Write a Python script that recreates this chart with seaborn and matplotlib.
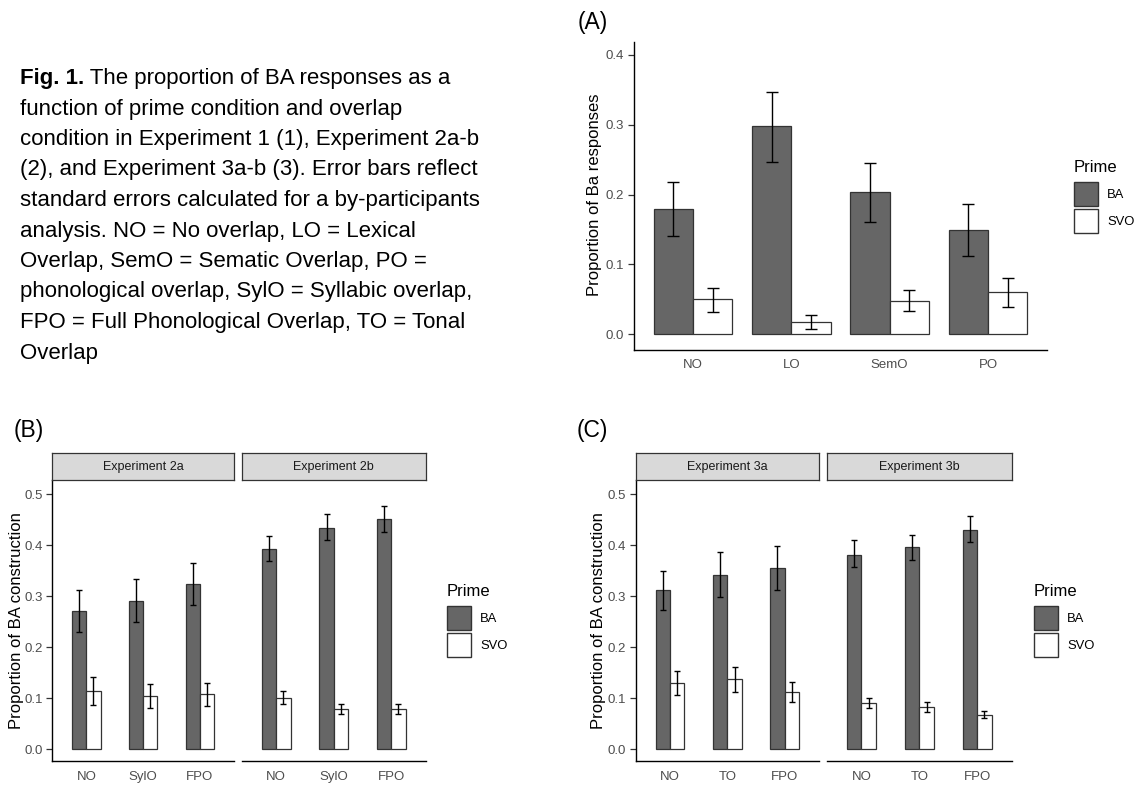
import numpy as np
import pandas as pd
import matplotlib
matplotlib.use('Agg')
import matplotlib.pyplot as plt
from matplotlib.patches import Patch
import seaborn as sns

sns.set_style('white')
plt.rcParams['font.family'] = ['Liberation Sans', 'DejaVu Sans']
plt.rcParams['text.color'] = 'black'
plt.rcParams['axes.labelcolor'] = 'black'

W, H = 1146, 785

#%% data
primes = ['BA', 'SVO']

# (A) Experiment 1
condA = ['NO', 'LO', 'SemO', 'PO']
A_ba = [0.180, 0.298, 0.204, 0.149]
A_ba_lo = [0.141, 0.247, 0.161, 0.112]
A_ba_hi = [0.218, 0.347, 0.246, 0.187]
A_svo = [0.050, 0.018, 0.048, 0.060]
A_svo_lo = [0.032, 0.008, 0.033, 0.039]
A_svo_hi = [0.066, 0.028, 0.063, 0.080]

# (B) Experiment 2a / 2b
condB = ['NO', 'SylO', 'FPO']
B2a_ba = [0.271, 0.291, 0.323]
B2a_ba_lo = [0.229, 0.250, 0.282]
B2a_ba_hi = [0.311, 0.334, 0.364]
B2a_svo = [0.114, 0.103, 0.107]
B2a_svo_lo = [0.087, 0.080, 0.085]
B2a_svo_hi = [0.141, 0.127, 0.130]
B2b_ba = [0.393, 0.434, 0.452]
B2b_ba_lo = [0.369, 0.409, 0.425]
B2b_ba_hi = [0.418, 0.461, 0.477]
B2b_svo = [0.101, 0.078, 0.078]
B2b_svo_lo = [0.088, 0.068, 0.068]
B2b_svo_hi = [0.114, 0.089, 0.089]

# (C) Experiment 3a / 3b
condC = ['NO', 'TO', 'FPO']
C3a_ba = [0.312, 0.341, 0.355]
C3a_ba_lo = [0.273, 0.298, 0.312]
C3a_ba_hi = [0.350, 0.386, 0.398]
C3a_svo = [0.130, 0.137, 0.112]
C3a_svo_lo = [0.106, 0.112, 0.092]
C3a_svo_hi = [0.153, 0.161, 0.132]
C3b_ba = [0.381, 0.396, 0.430]
C3b_ba_lo = [0.356, 0.371, 0.405]
C3b_ba_hi = [0.409, 0.420, 0.456]
C3b_svo = [0.090, 0.083, 0.067]
C3b_svo_lo = [0.081, 0.072, 0.060]
C3b_svo_hi = [0.100, 0.093, 0.075]

caption = ['function of prime condition and overlap',
           'condition in Experiment 1 (1), Experiment 2a-b',
           '(2), and Experiment 3a-b (3). Error bars reflect',
           'standard errors calculated for a by-participants',
           'analysis. NO = No overlap, LO = Lexical',
           'Overlap, SemO = Sematic Overlap, PO =',
           'phonological overlap, SylO = Syllabic overlap,',
           'FPO = Full Phonological Overlap, TO = Tonal',
           'Overlap']

pal = {'BA': '#666666', 'SVO': 'white'}
edge = '#333333'
tickcol = '#4D4D4D'


def rect(l, t, r, b):
    return [l / W, 1 - b / H, (r - l) / W, (b - t) / H]


def make_df(cond, ba, ba_lo, ba_hi, svo, svo_lo, svo_hi):
    df = pd.DataFrame({'cond': cond * 2,
                       'prime': ['BA'] * len(cond) + ['SVO'] * len(cond),
                       'val': ba + svo,
                       'lo': ba_lo + svo_lo,
                       'hi': ba_hi + svo_hi})
    return df


def bar_panel(ax, df, cond, width, capsize, ylim, yticks, left_axis=True):
    sns.barplot(data=df, x='cond', y='val', hue='prime', order=cond,
                hue_order=primes, palette=pal, edgecolor=edge, linewidth=0.9,
                width=width, errorbar=None, legend=False, ax=ax)
    # error bars at the bar centres
    for cont, p in zip(ax.containers, primes):
        sub = df[df.prime == p].set_index('cond').loc[cond]
        xs = [b.get_x() + b.get_width() / 2 for b in cont]
        ax.errorbar(xs, sub.val, yerr=[sub.val - sub.lo, sub.hi - sub.val],
                    fmt='none', ecolor='black', elinewidth=1.0,
                    capsize=capsize, capthick=1.0)
    ax.set_xlim(-0.6, len(cond) - 0.4)
    ax.set_ylim(*ylim)
    ax.set_xlabel('')
    ax.set_ylabel('')
    ax.set_facecolor('none')
    for s in ['top', 'right']:
        ax.spines[s].set_visible(False)
    ax.spines['bottom'].set_color('black')
    ax.spines['bottom'].set_linewidth(1.0)
    ax.tick_params(axis='x', length=4, width=0.9, color=edge,
                   labelcolor=tickcol, labelsize=9.5, pad=3)
    if left_axis:
        ax.spines['left'].set_color('black')
        ax.spines['left'].set_linewidth(1.0)
        ax.set_yticks(yticks)
        ax.set_yticklabels(['%.1f' % v for v in yticks])
        ax.tick_params(axis='y', length=4, width=0.9, color=edge,
                       labelcolor=tickcol, labelsize=9.5, pad=3, left=True)
    else:
        ax.spines['left'].set_visible(False)
        ax.set_yticks([])


def strip(l, t, r, b, label):
    s = fig.add_axes(rect(l, t, r, b))
    s.set_facecolor('#D9D9D9')
    s.set_xticks([])
    s.set_yticks([])
    for sp in s.spines.values():
        sp.set_color(edge)
        sp.set_linewidth(0.9)
    s.text(0.5, 0.5, label, ha='center', va='center', fontsize=9,
           color='#1A1A1A', transform=s.transAxes)


def legend_at(x, y):
    handles = [Patch(facecolor=pal[p], edgecolor=edge, linewidth=1.0, label=p)
               for p in primes]
    leg = fig.legend(handles=handles, title='Prime', loc='upper left',
                     bbox_to_anchor=(x / W, 1 - y / H), frameon=False,
                     fontsize=9.4, title_fontsize=12, handlelength=1.85,
                     handleheight=2.45, labelspacing=0.22, handletextpad=0.7,
                     borderpad=0, borderaxespad=0, alignment='left')
    # a little more room under the title, as in ggplot
    leg._legend_handle_box.sep = 4
    leg._legend_box.sep = 5


fig = plt.figure(figsize=(W / 100, H / 100), dpi=100)

#%% caption
fig.text(20 / W, 1 - 84 / H, 'Fig. 1.', fontsize=16, fontweight='bold',
         va='baseline', ha='left')
fig.canvas.draw()
t0 = fig.texts[0]
bb = t0.get_window_extent(renderer=fig.canvas.get_renderer())
fig.text(bb.x1 / W, 1 - 84 / H, ' The proportion of BA responses as a',
         fontsize=16, va='baseline', ha='left')
for i, line in enumerate(caption):
    fig.text(20 / W, 1 - (114.5 + 30.5 * i) / H, line, fontsize=16,
             va='baseline', ha='left')

#%% panel A
axA = fig.add_axes(rect(634, 42, 1047, 349.7))
dfA = make_df(condA, A_ba, A_ba_lo, A_ba_hi, A_svo, A_svo_lo, A_svo_hi)
bar_panel(axA, dfA, condA, 0.8, 4.3, (-0.0221, 0.4186), [0, 0.1, 0.2, 0.3, 0.4])
fig.text(595 / W, 1 - 194.5 / H, 'Proportion of Ba responses', rotation=90,
         fontsize=12, ha='center', va='center')
fig.text(578 / W, 1 - 22 / H, '(A)', fontsize=16.5, ha='left', va='center')
legend_at(1074, 160)

#%% panel B
ylimBC = (-0.0235, 0.5275)
yt = [0, 0.1, 0.2, 0.3, 0.4, 0.5]
axB1 = fig.add_axes(rect(52.3, 480, 234, 761))
bar_panel(axB1, make_df(condB, B2a_ba, B2a_ba_lo, B2a_ba_hi, B2a_svo, B2a_svo_lo, B2a_svo_hi),
          condB, 0.5, 2.2, ylimBC, yt)
axB2 = fig.add_axes(rect(241.7, 480, 425.7, 761))
bar_panel(axB2, make_df(condB, B2b_ba, B2b_ba_lo, B2b_ba_hi, B2b_svo, B2b_svo_lo, B2b_svo_hi),
          condB, 0.5, 2.2, ylimBC, yt, left_axis=False)
strip(52.3, 453.3, 234, 480, 'Experiment 2a')
strip(241.7, 453.3, 425.7, 480, 'Experiment 2b')
fig.text(17 / W, 1 - 621 / H, 'Proportion of BA construction', rotation=90,
         fontsize=12, ha='center', va='center')
fig.text(14 / W, 1 - 430 / H, '(B)', fontsize=16.5, ha='left', va='center')
legend_at(447, 584)

#%% panel C
axC1 = fig.add_axes(rect(635.7, 480, 819, 761))
bar_panel(axC1, make_df(condC, C3a_ba, C3a_ba_lo, C3a_ba_hi, C3a_svo, C3a_svo_lo, C3a_svo_hi),
          condC, 0.5, 2.2, ylimBC, yt)
axC2 = fig.add_axes(rect(826.7, 480, 1012, 761))
bar_panel(axC2, make_df(condC, C3b_ba, C3b_ba_lo, C3b_ba_hi, C3b_svo, C3b_svo_lo, C3b_svo_hi),
          condC, 0.5, 2.2, ylimBC, yt, left_axis=False)
strip(635.7, 453.3, 819, 480, 'Experiment 3a')
strip(826.7, 453.3, 1012, 480, 'Experiment 3b')
fig.text(599 / W, 1 - 621 / H, 'Proportion of BA construction', rotation=90,
         fontsize=12, ha='center', va='center')
fig.text(577 / W, 1 - 430 / H, '(C)', fontsize=16.5, ha='left', va='center')
legend_at(1034, 584)

fig.savefig('out.png', dpi=100)
